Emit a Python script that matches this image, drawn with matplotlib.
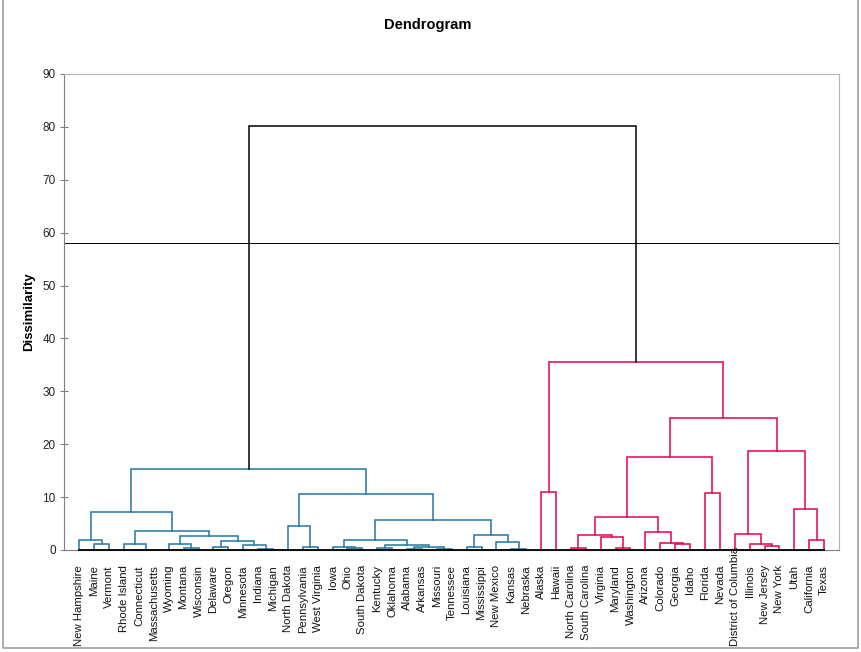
import matplotlib
matplotlib.use('Agg')
import matplotlib.pyplot as plt
from matplotlib.transforms import offset_copy

plt.rcParams['font.family'] = ['Liberation Sans', 'DejaVu Sans']

# leaves in dendrogram order
states = ['New Hampshire', 'Maine', 'Vermont', 'Rhode Island', 'Connecticut',
          'Massachusetts', 'Wyoming', 'Montana', 'Wisconsin', 'Delaware', 'Oregon',
          'Minnesota', 'Indiana', 'Michigan', 'North Dakota', 'Pennsylvania',
          'West Virginia', 'Iowa', 'Ohio', 'South Dakota', 'Kentucky', 'Oklahoma',
          'Alabama', 'Arkansas', 'Missouri', 'Tennessee', 'Louisiana', 'Mississippi',
          'New Mexico', 'Kansas', 'Nebraska', 'Alaska', 'Hawaii', 'North Carolina',
          'South Carolina', 'Virginia', 'Maryland', 'Washington', 'Arizona',
          'Colorado', 'Georgia', 'Idaho', 'Florida', 'Nevada', 'District of Columbia',
          'Illinois', 'New Jersey', 'New York', 'Utah', 'California', 'Texas']

# class of each leaf (0 = blue group, 1 = red group)
leaf_class = [0] * 31 + [1] * 20

# merges, scipy style: ids 0..50 are leaves, id 51 + k is the k-th merge
link_pairs = [(1, 2), (0, 51), (4, 5), (3, 53), (7, 8), (6, 55), (9, 10), (12, 13),
              (11, 58), (57, 59), (56, 60), (54, 61), (52, 62), (15, 16), (14, 64),
              (18, 19), (17, 66), (20, 21), (22, 23), (24, 25), (69, 70), (68, 71),
              (67, 72), (26, 27), (29, 30), (28, 75), (74, 76), (73, 77), (65, 78),
              (63, 79),
              (31, 32), (33, 34), (36, 37), (35, 83), (82, 84), (40, 41), (39, 86),
              (38, 87), (85, 88), (42, 43), (89, 90), (46, 47), (45, 92), (44, 93),
              (49, 50), (48, 95), (94, 96), (91, 97), (81, 98), (80, 99)]
link_heights = [1.07, 1.83, 0.05, 1.07, 0.32, 1.07, 0.51, 0.13,
                0.88, 1.64, 2.58, 3.59, 7.18, 0.51, 4.48,
                0.32, 0.51, 0.32, 0.13, 0.13, 0.51, 0.88,
                1.83, 0.51, 0.13, 1.45, 2.77, 5.61, 10.53,
                15.26,
                10.9, 0.31, 0.31, 2.39, 2.77, 1.07, 1.26,
                3.35, 6.17, 10.72, 17.5, 0.69, 1.07, 2.96,
                1.83, 7.69, 18.65, 24.9, 35.5, 80.2]

cut_level = 58.04
class_colors = ['#1f77a2', '#e8004c']

fig = plt.figure(figsize=(8.61, 6.52), dpi=100)
ax = fig.add_axes([64 / 861, 102 / 652, 775 / 861, 476 / 652])

n = len(states)
xs = list(range(n))
ys = [0.0] * n
first_leaf = list(range(n))
for (a, b), h in zip(link_pairs, link_heights):
    if h > cut_level:
        col = 'black'
    else:
        col = class_colors[leaf_class[first_leaf[a]]]
    ax.plot([xs[a], xs[a], xs[b], xs[b]], [ys[a], h, h, ys[b]], color=col, lw=1.1,
            solid_joinstyle='miter', zorder=2)
    xs.append((xs[a] + xs[b]) / 2)
    ys.append(h)
    first_leaf.append(first_leaf[a])

# baseline under the leaves and the truncation line
ax.plot([0, n - 1], [0, 0], color='black', lw=1.3, clip_on=False, zorder=3)
ax.axhline(cut_level, color='black', lw=0.7, zorder=1)

ax.set_xlim(-1.03, 51.0)
ax.set_ylim(0, 90)
ax.set_yticks(range(0, 91, 10))
ax.set_xticks([])
ax.tick_params(axis='y', direction='inout', length=6, color='#808080',
               labelsize=8.5, labelcolor='#222222', pad=3)
for s in ['left', 'bottom']:
    ax.spines[s].set_color('#808080')
for s in ['top', 'right']:
    ax.spines[s].set_color('#b4b4b4')

# leaf labels, rotated; long ones pushed up like the original
trans = offset_copy(ax.transData, fig=fig, y=-15, units='dots')
labels = []
for i, name in enumerate(states):
    t = ax.text(i, 0, name, transform=trans, rotation=90, ha='center', va='top',
                fontsize=8.2, color='#111111')
    labels.append(t)
fig.canvas.draw()
rend = fig.canvas.get_renderer()
for t in labels:
    bb = t.get_window_extent(rend)
    if bb.y0 < 10:
        t.set_transform(offset_copy(ax.transData, fig=fig, y=-(102 - 6), units='dots'))
        t.set_va('bottom')

fig.text(29 / 861, 1 - 312 / 652, 'Dissimilarity', rotation=90, ha='center', va='center',
         fontsize=9.5, fontweight='bold')
fig.text(428 / 861, 1 - 25 / 652, 'Dendrogram', ha='center', va='center',
         fontsize=10.5, fontweight='bold')

# light frame around the whole picture
frame_x = [2.5 / 861, 2.5 / 861, 857.5 / 861, 857.5 / 861]
frame_y = [1.0, 4 / 652, 4 / 652, 1.0]
fig.add_artist(plt.Line2D(frame_x, frame_y, transform=fig.transFigure,
                          color='#a0a0a0', lw=1.2))

fig.savefig('out.png', dpi=100)
